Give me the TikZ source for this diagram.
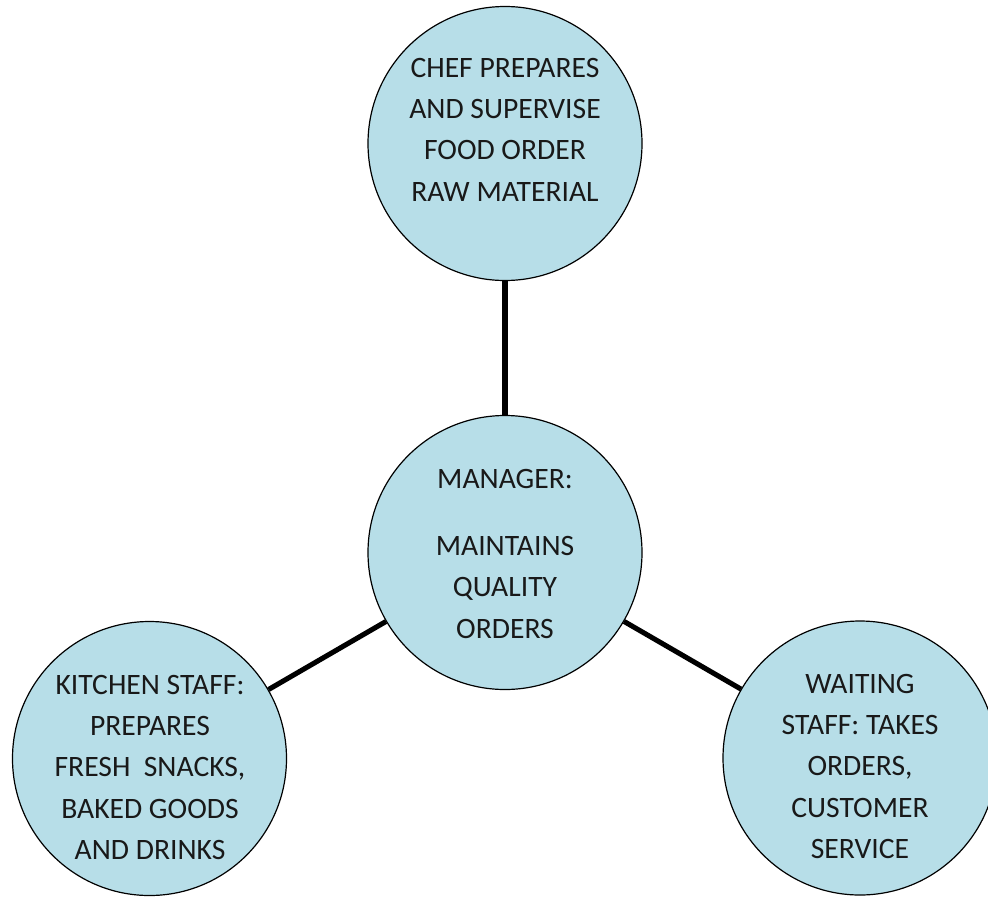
\documentclass[tikz,border=0pt]{standalone}
\usepackage{fontspec}
\setmainfont{Carlito}
\definecolor{bubble}{HTML}{B7DEE8}
\begin{document}
\begin{tikzpicture}[x=0.75pt,y=-0.75pt,
  role/.style={circle, draw=black, line width=0.9pt, fill=bubble,
               minimum size=205.5pt, inner sep=0pt},
  roletext/.style={anchor=north, align=center, inner sep=0pt,
               text=black!90, font=\fontsize{22.2}{31}\selectfont},
  link/.style={line width=3.8pt}]
\useasboundingbox (0,0) rectangle (988,896);
\clip (0,0) rectangle (988,896);

% role circles
\node[role] (chef) at (505,143.5) {};
\node[role] (mgr)  at (505,552.5) {};
\node[role] (kit)  at (149.5,758.5) {};
\node[role] (wait) at (860,758) {};

% links between the manager and the other roles
\draw[link] (chef) -- (mgr);
\draw[link] (mgr) -- (kit);
\draw[link] (mgr) -- (wait);

% role descriptions
\node[roletext] (chefT) at (505,57.7)
  {CHEF PREPARES\\AND SUPERVISE\\FOOD ORDER\\RAW MATERIAL};
\node[roletext] (mgrT) at (505,469.3)
  {MANAGER:\\[19pt]MAINTAINS\\QUALITY\\ORDERS};
\node[roletext] (kitT) at (150,674.7)
  {KITCHEN STAFF:\\PREPARES\\FRESH\ \ SNACKS,\\BAKED GOODS\\AND DRINKS};
\node[roletext] (waitT) at (860,673.7)
  {WAITING\\STAFF: TAKES\\ORDERS,\\CUSTOMER\\SERVICE};
\end{tikzpicture}
\end{document}
